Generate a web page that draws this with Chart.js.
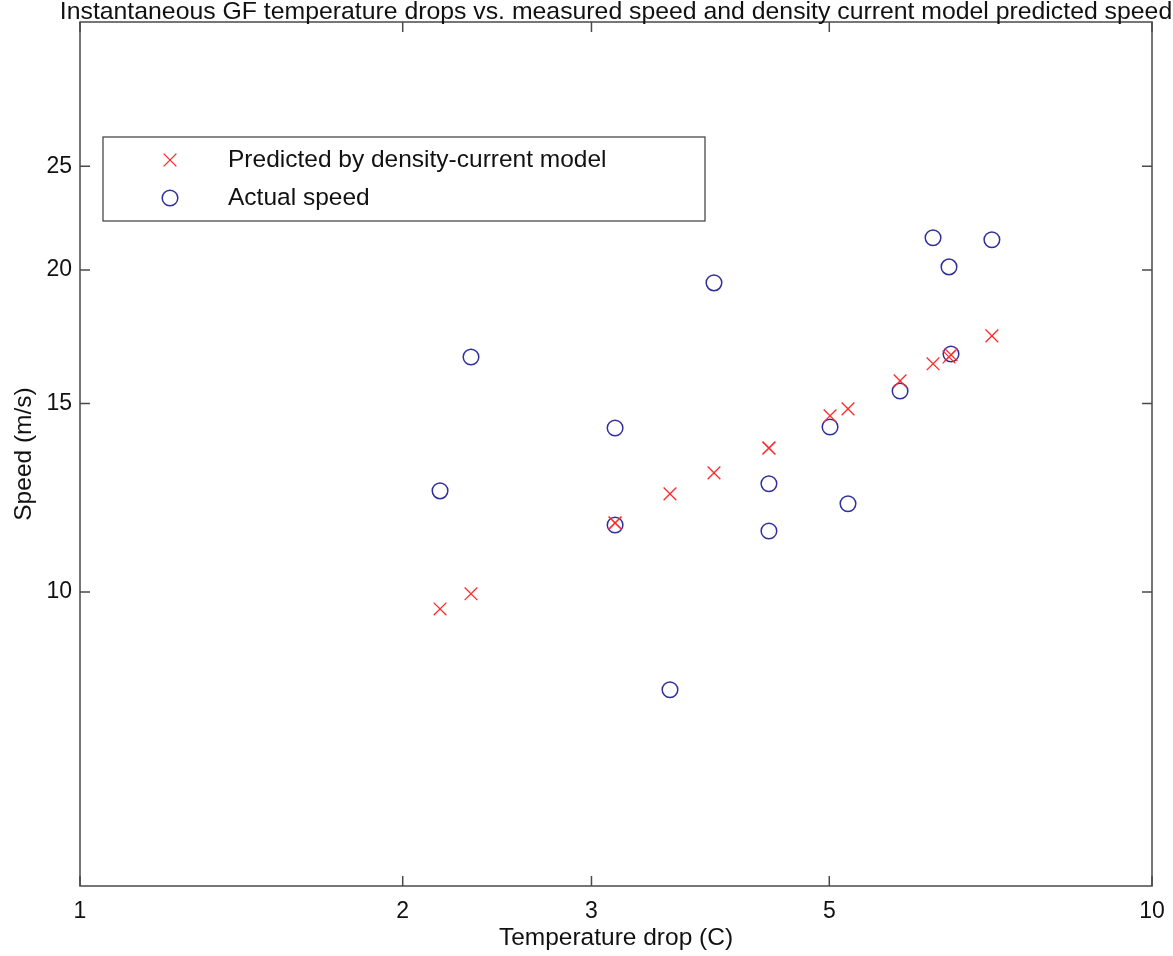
<!DOCTYPE html>
<html>
<head>
<meta charset="utf-8">
<title>GF temperature drops vs speed</title>
<script src="https://cdn.jsdelivr.net/npm/chart.js@4.4.1/dist/chart.umd.min.js"></script>
<style>
  html, body { margin: 0; padding: 0; background: #fff; }
  #wrap { width: 1173px; height: 956px; }
</style>
</head>
<body>
<div id="wrap"><canvas id="speedChart" width="1173" height="956"></canvas></div>
<script>
// data
const tempDrop = [2.167, 2.316, 3.156, 3.156, 3.551, 3.903, 4.392, 4.392, 5.008, 5.205, 5.821, 6.248, 6.466, 6.494, 7.09];
const predictedSpeed = [9.64, 9.96, 11.60, 11.60, 12.35, 12.92, 13.63, 13.63, 14.61, 14.83, 15.75, 16.34, 16.58, 16.66, 17.35];
const actualSpeed = [12.43, 16.58, 14.23, 11.55, 8.10, 19.45, 12.62, 11.40, 14.26, 12.09, 15.41, 21.43, 20.13, 16.69, 21.34];
const xTicks = [1, 2, 3, 5, 10];
const yTicks = [10, 15, 20, 25];
const seriesNames = ['Predicted by density-current model', 'Actual speed'];
const chartTitle = 'Instantaneous GF temperature drops vs. measured speed and density current model predicted speed';

const FONT = "'Liberation Sans', Arial, Helvetica, sans-serif";
const AXIS_COLOR = '#4a4a4a';
const RED = '#ff2a2a';
const BLUE = '#30309c';

function toPoints(xs, ys) {
    return xs.map((x, i) => ({ x: x, y: ys[i] }));
}

// box, inward ticks on all four sides, title and legend (MATLAB style)
const matlabFrame = {
    id: 'matlabFrame',
    beforeDatasetsDraw(chart) {
        const { ctx, chartArea: a, scales } = chart;
        const len = 10;
        ctx.save();
        ctx.strokeStyle = AXIS_COLOR;
        ctx.lineWidth = 1.5;
        ctx.strokeRect(a.left, a.top, a.right - a.left, a.bottom - a.top);
        ctx.beginPath();
        xTicks.forEach(v => {
            const px = scales.x.getPixelForValue(v);
            ctx.moveTo(px, a.bottom); ctx.lineTo(px, a.bottom - len);
            ctx.moveTo(px, a.top); ctx.lineTo(px, a.top + len);
        });
        yTicks.forEach(v => {
            const py = scales.y.getPixelForValue(v);
            ctx.moveTo(a.left, py); ctx.lineTo(a.left + len, py);
            ctx.moveTo(a.right, py); ctx.lineTo(a.right - len, py);
        });
        ctx.stroke();

        // title centred over the axes
        ctx.fillStyle = '#111';
        ctx.font = '24.8px ' + FONT;
        ctx.textAlign = 'center';
        ctx.textBaseline = 'alphabetic';
        ctx.fillText(chartTitle, (a.left + a.right) / 2, 19);
        ctx.restore();
    },
    afterDraw(chart) {
        const { ctx } = chart;
        const box = { x: 103, y: 137, w: 602, h: 84 };
        ctx.save();
        ctx.fillStyle = '#fff';
        ctx.fillRect(box.x, box.y, box.w, box.h);
        ctx.strokeStyle = AXIS_COLOR;
        ctx.lineWidth = 1.3;
        ctx.strokeRect(box.x, box.y, box.w, box.h);
        chart.data.datasets.forEach((ds, i) => {
            const cy = box.y + 23 + i * 38;
            ctx.strokeStyle = ds.borderColor;
            ctx.fillStyle = 'rgba(0,0,0,0)';
            ctx.lineWidth = ds.borderWidth;
            Chart.helpers.drawPoint(ctx, { pointStyle: ds.pointStyle, radius: ds.pointRadius, borderWidth: ds.borderWidth }, box.x + 67, cy);
            ctx.fillStyle = '#111';
            ctx.font = '24.5px ' + FONT;
            ctx.textAlign = 'left';
            ctx.textBaseline = 'middle';
            ctx.fillText(ds.label, box.x + 125, cy);
        });
        ctx.restore();
    }
};

const ctx = document.getElementById('speedChart').getContext('2d');
new Chart(ctx, {
    type: 'scatter',
    data: {
        datasets: [{
            label: seriesNames[0],
            data: toPoints(tempDrop, predictedSpeed),
            pointStyle: 'crossRot',
            pointRadius: 9,
            pointHoverRadius: 9,
            borderColor: RED,
            backgroundColor: RED,
            borderWidth: 1.3
        }, {
            label: seriesNames[1],
            data: toPoints(tempDrop, actualSpeed),
            pointStyle: 'circle',
            pointRadius: 7.8,
            pointHoverRadius: 7.8,
            borderColor: BLUE,
            backgroundColor: 'rgba(0,0,0,0)',
            borderWidth: 1.5
        }]
    },
    options: {
        responsive: false,
        animation: false,
        layout: { padding: { top: 22, right: 21, left: 0, bottom: 0 } },
        plugins: {
            legend: { display: false },
            title: { display: false },
            tooltip: { enabled: false }
        },
        scales: {
            x: {
                type: 'logarithmic',
                min: 1, max: 10,
                grid: { display: false, drawTicks: false },
                border: { display: false },
                afterBuildTicks: (scale) => { scale.ticks = xTicks.map(v => ({ value: v })); },
                afterFit: (scale) => {
                    scale.height = 70;
                    scale.paddingLeft = 0;
                    scale.paddingRight = 0;
                },
                ticks: {
                    autoSkip: false, maxRotation: 0, padding: 12,
                    color: '#111', font: { family: FONT, size: 23 },
                    callback: (v) => String(v)
                },
                title: {
                    display: true, text: 'Temperature drop (C)', color: '#111',
                    font: { family: FONT, size: 24.5 },
                    padding: { top: 0, bottom: 3 }
                }
            },
            y: {
                type: 'logarithmic',
                min: 5.31, max: 34.1,
                grid: { display: false, drawTicks: false },
                border: { display: false },
                afterBuildTicks: (scale) => { scale.ticks = yTicks.map(v => ({ value: v })); },
                afterFit: (scale) => {
                    scale.width = 80;
                    scale.paddingTop = 0;
                    scale.paddingBottom = 0;
                },
                ticks: {
                    autoSkip: false, padding: 8,
                    color: '#111', font: { family: FONT, size: 23 },
                    callback: (v) => String(v)
                },
                title: {
                    display: true, text: 'Speed (m/s)', color: '#111',
                    font: { family: FONT, size: 24.5 },
                    padding: { top: 10, bottom: 0 }
                }
            }
        }
    },
    plugins: [matlabFrame]
});
</script>
</body>
</html>
